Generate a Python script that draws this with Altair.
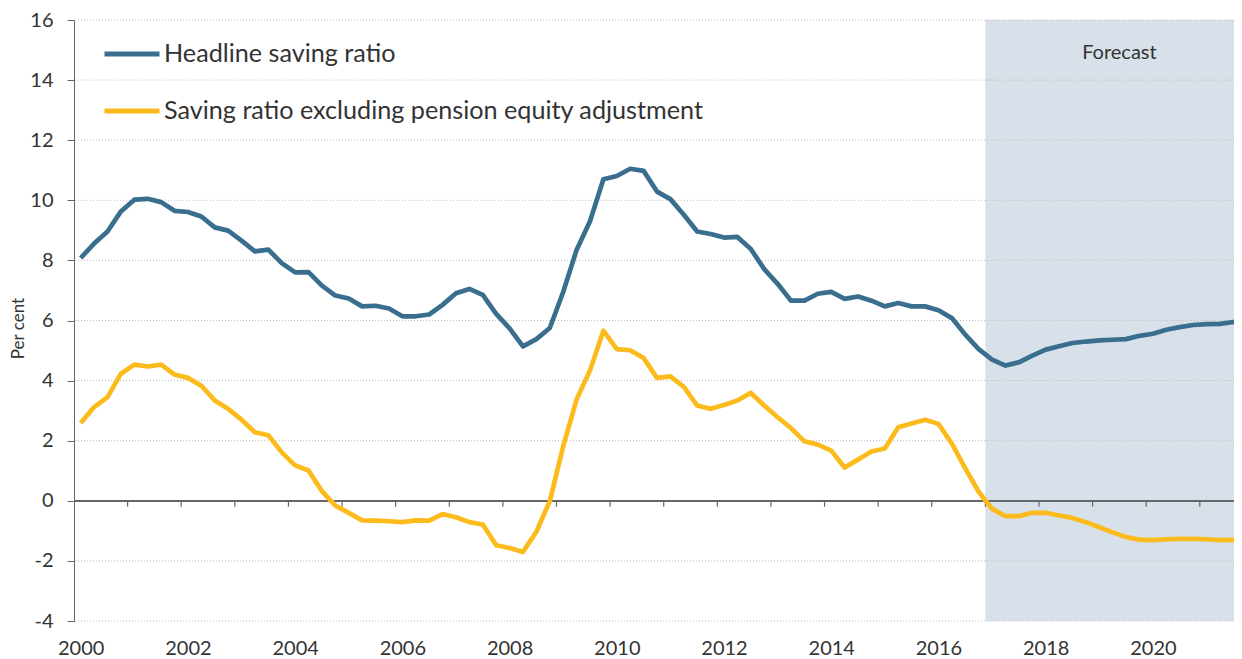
import altair as alt
import pandas as pd

FONT = "Lato"

# ---- data -------------------------------------------------------------
years = list(range(2000, 2022))
t = [y + (q - 1) / 4 for y in years for q in range(1, 5)]  # quarterly, Q1 = whole year

headline = [
    8.08, 8.56, 8.96, 9.63,   10.02, 10.05, 9.94, 9.65,   9.61, 9.46, 9.10, 8.99,
    8.66, 8.30, 8.36, 7.91,   7.60, 7.61, 7.16, 6.83,     6.73, 6.47, 6.49, 6.40,
    6.14, 6.14, 6.20, 6.52,   6.91, 7.05, 6.85, 6.22,     5.74, 5.14, 5.38, 5.75,
    6.95, 8.35, 9.30, 10.70,  10.81, 11.05, 10.98, 10.29, 10.04, 9.52, 8.96, 8.88,
    8.76, 8.78, 8.38, 7.71,   7.22, 6.66, 6.66, 6.89,     6.95, 6.72, 6.80, 6.66,
    6.47, 6.58, 6.47, 6.47,   6.34, 6.08, 5.53, 5.05,     4.70, 4.50, 4.61, 4.83,
    5.03, 5.14, 5.25, 5.30,   5.34, 5.36, 5.38, 5.49,     5.56, 5.69, 5.78, 5.85,
    5.88, 5.89, 5.95, 5.90,
]
excluding = [
    2.59, 3.12, 3.45, 4.23,   4.53, 4.47, 4.53, 4.20,     4.09, 3.83, 3.34, 3.06,
    2.70, 2.28, 2.18, 1.61,   1.18, 1.01, 0.32, -0.16,    -0.40, -0.65, -0.66, -0.68,
    -0.71, -0.65, -0.66, -0.44, -0.55, -0.71, -0.79, -1.48, -1.57, -1.70, -1.03, -0.01,
    1.81, 3.37, 4.34, 5.66,   5.05, 5.01, 4.75, 4.09,     4.14, 3.79, 3.17, 3.06,
    3.19, 3.34, 3.59, 3.17,   2.78, 2.42, 1.98, 1.87,     1.67, 1.11, 1.37, 1.64,
    1.74, 2.45, 2.57, 2.70,   2.56, 1.90, 1.08, 0.30,     -0.27, -0.51, -0.51, -0.40,
    -0.40, -0.49, -0.57, -0.71, -0.88, -1.05, -1.21, -1.29, -1.31, -1.28, -1.27, -1.27,
    -1.28, -1.31, -1.30, -1.33,
]
series_names = ["Headline saving ratio", "Saving ratio excluding pension equity adjustment"]
series_colors = ["#3A6E8F", "#FCBB1C"]

y_ticks = list(range(-4, 17, 2))
x_label_years = list(range(2000, 2021, 2))
x_tick_bounds = [y + 0.875 for y in range(2000, 2021)]  # boundaries between Q4 and Q1
forecast_start = 2016.875
forecast_end = 2021.875
forecast_label = "Forecast"

# ---- frames -----------------------------------------------------------
lines_df = pd.DataFrame(
    {"t": t * 2,
     "v": headline + excluding,
     "series": [series_names[0]] * len(t) + [series_names[1]] * len(t)}
)
grid_df = pd.DataFrame({"v": y_ticks})
ticks_df = pd.DataFrame({"t": x_tick_bounds})
shade_df = pd.DataFrame({"t": [forecast_start], "t2": [forecast_end]})
text_df = pd.DataFrame({"t": [(forecast_start + forecast_end) / 2], "v": [14.9], "label": [forecast_label]})

W, H = 1160, 601
xscale = alt.Scale(domain=[1999.875, 1999.875 + W / 53.61], nice=False, zero=False)
yscale = alt.Scale(domain=[-4, 16], nice=False, zero=False)

xaxis = alt.Axis(values=x_label_years, format="d", domain=False, ticks=False, grid=False,
                 labelFontSize=20, labelFont=FONT, labelColor="#333333", labelPadding=17,
                 title=None)
yaxis = alt.Axis(values=y_ticks, grid=False, domainColor="#666666", tickColor="#666666",
                 tickSize=7, labelPadding=14, labelFontSize=20, labelFont=FONT,
                 labelExpr="'' + datum.value",
                 labelColor="#333333", title="Per cent", titleFontSize=17, titleFont=FONT,
                 titleFontWeight="normal", titleColor="#333333", titleX=-56, titleY=308,
                 titleBaseline="middle", titleAlign="center", titleAngle=270)


def X(f):
    return alt.X(f, type="quantitative", scale=xscale, axis=xaxis)


def Y(f):
    return alt.Y(f, type="quantitative", scale=yscale, axis=yaxis)


shade = alt.Chart(shade_df).mark_rect(color="#D8E0E9", clip=True).encode(
    x=X("t"), x2="t2", y=alt.value(0), y2=alt.value(H)
)
grid = alt.Chart(grid_df).mark_rule(color="#BDBDBD", strokeWidth=1, strokeDash=[1, 2]).encode(
    y=Y("v")
)
zero = alt.Chart(grid_df).mark_rule(color="#666666", strokeWidth=1.5).encode(y=alt.datum(0))
ticks = alt.Chart(ticks_df).mark_rule(color="#666666", strokeWidth=1.2).encode(
    x=X("t"), y=alt.datum(0), y2=alt.datum(-0.2)
)
lines = alt.Chart(lines_df).mark_line(strokeWidth=4.7, clip=True, strokeJoin="round").encode(
    x=X("t"),
    y=Y("v"),
    color=alt.Color(
        "series:N",
        scale=alt.Scale(domain=series_names, range=series_colors),
        legend=alt.Legend(orient="none", legendX=28, legendY=4, title=None,
                          symbolType="stroke", symbolSize=3025, symbolStrokeWidth=5,
                          labelFontSize=25.2, labelFont=FONT, labelColor="#333333",
                          labelLimit=900, labelOffset=2, rowPadding=13, padding=0),
    ),
)
label = alt.Chart(text_df).mark_text(fontSize=20, font=FONT, color="#333333").encode(
    x=X("t"), y=Y("v"), text="label:N"
)

chart = (
    alt.layer(shade, grid, zero, ticks, lines, label)
    .properties(width=W, height=H,
                padding={"left": 66, "top": 12, "right": 0, "bottom": 38},
                autosize=alt.AutoSizeParams(type="none"))
    .configure_view(stroke=None)
)

chart.save("out.html", embed_options={"renderer": "svg", "actions": False})
